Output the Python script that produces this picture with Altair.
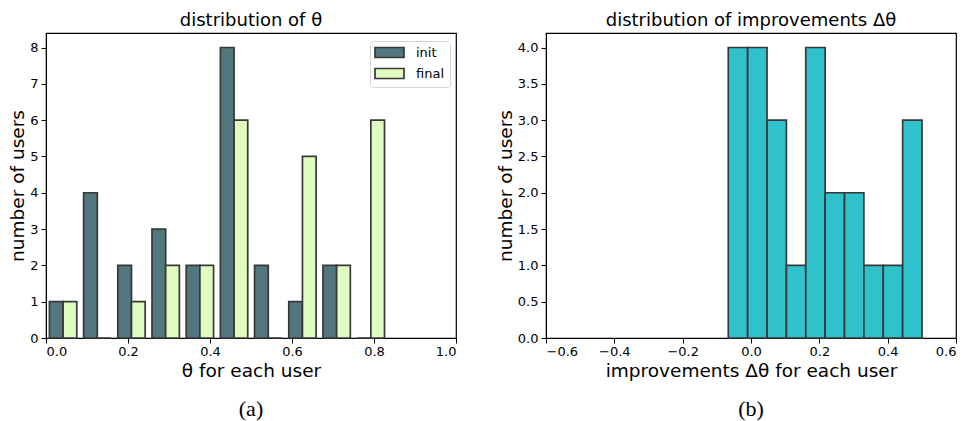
import altair as alt
import pandas as pd

# ---- data ----
theta_edges = [0.0, 0.0834, 0.1668, 0.2502, 0.3336, 0.417, 0.5004, 0.5838, 0.6672, 0.7506, 0.834]
init_counts = [1, 4, 2, 3, 2, 8, 2, 1, 2, 0]
final_counts = [1, 0, 1, 2, 2, 6, 0, 5, 2, 6]

delta_edges = [-0.0665, -0.0098, 0.0469, 0.1036, 0.1603, 0.217, 0.2737, 0.3304, 0.3871, 0.4438, 0.5005]
delta_counts = [4, 4, 3, 1, 4, 2, 2, 1, 1, 3]

series = ["init", "final"]
colors = ["#52777e", "#e1fcc1"]
cyan = "#2fc1cc"
edge = "#383838"

W, H = 410, 305
FONT = "DejaVu Sans"
TICK_FS = 13
LABEL_FS = 18.5
TITLE_FS = 18

# grouped histogram table (matplotlib-style: two bars fill 80% of each bin)
rows = []
for i in range(len(init_counts)):
    lo, hi = theta_edges[i], theta_edges[i + 1]
    c = (lo + hi) / 2
    bw = (hi - lo) * 0.4
    rows.append({"series": "init", "x": c - bw, "x2": c, "count": init_counts[i]})
    rows.append({"series": "final", "x": c, "x2": c + bw, "count": final_counts[i]})
left_df = pd.DataFrame(rows)

right_df = pd.DataFrame({
    "x": delta_edges[:-1],
    "x2": delta_edges[1:],
    "count": delta_counts,
})

def xaxis(title, vals):
    return alt.Axis(title=title, values=vals, format=".1f", grid=False, tickColor="black",
                    domainColor="black", labelColor="black", titleColor="black",
                    labelFontSize=TICK_FS, titleFontSize=LABEL_FS, titleFontWeight="normal",
                    tickSize=5, labelPadding=2, titlePadding=3, labelFont=FONT, titleFont=FONT,
                    labelOverlap=False)

def yaxis(vals, fmt):
    return alt.Axis(title="number of users", values=vals, format=fmt, grid=False, tickColor="black",
                    domainColor="black", labelColor="black", titleColor="black",
                    labelFontSize=TICK_FS, titleFontSize=LABEL_FS, titleFontWeight="normal",
                    tickSize=5, labelPadding=3, titlePadding=2, labelFont=FONT, titleFont=FONT,
                    labelOverlap=False)

left_bars = alt.Chart(left_df).mark_bar(stroke=edge, strokeWidth=1.7, opacity=1,
                                        orient="vertical").encode(
    x=alt.X("x:Q", scale=alt.Scale(domain=[0, 1.0], nice=False, zero=False, padding=0),
            axis=xaxis("θ for each user", [0, 0.2, 0.4, 0.6, 0.8, 1.0])),
    x2="x2:Q",
    y=alt.Y("count:Q", scale=alt.Scale(domain=[0, 8.4], nice=False, padding=0),
            axis=yaxis(list(range(0, 9)), "d")),
    y2=alt.datum(0),
    fill=alt.Fill("series:N", scale=alt.Scale(domain=series, range=colors),
                  legend=alt.Legend(title=None, orient="none", legendX=324, legendY=8,
                                    fillColor="white", strokeColor="#d4d4d4", cornerRadius=3,
                                    padding=5, labelFontSize=TICK_FS, labelFont=FONT,
                                    labelColor="black",
                                    symbolType="M-1.3,-1H4.5V1H-1.3Z", symbolSize=100,
                                    symbolStrokeColor=edge, symbolStrokeWidth=1.7,
                                    symbolOpacity=1, rowPadding=4, labelOffset=28)),
)

cap_a = alt.Chart(pd.DataFrame({"t": ["(a)"]})).mark_text(
    font="Liberation Serif", fontSize=22, color="black").encode(
    x=alt.value(W / 2), y=alt.value(H + 71), text="t:N")

left = alt.layer(left_bars, cap_a).properties(
    width=W, height=H,
    title=alt.Title("distribution of θ", fontSize=TITLE_FS, fontWeight="normal", font=FONT,
                    color="black", offset=3))

right_bars = alt.Chart(right_df).mark_bar(stroke=edge, strokeWidth=1.7, fill=cyan, opacity=1,
                                          orient="vertical").encode(
    x=alt.X("x:Q", scale=alt.Scale(domain=[-0.6, 0.6], nice=False, zero=False, padding=0),
            axis=xaxis("improvements Δθ for each user", [-0.6, -0.4, -0.2, 0, 0.2, 0.4, 0.6])),
    x2="x2:Q",
    y=alt.Y("count:Q", scale=alt.Scale(domain=[0, 4.2], nice=False, padding=0),
            axis=yaxis([0, 0.5, 1, 1.5, 2, 2.5, 3, 3.5, 4], ".1f")),
    y2=alt.datum(0),
)

cap_b = alt.Chart(pd.DataFrame({"t": ["(b)"]})).mark_text(
    font="Liberation Serif", fontSize=22, color="black").encode(
    x=alt.value(W / 2), y=alt.value(H + 71), text="t:N")

right = alt.layer(right_bars, cap_b).properties(
    width=W, height=H,
    title=alt.Title("distribution of improvements Δθ", fontSize=TITLE_FS, fontWeight="normal",
                    font=FONT, color="black", offset=3))

chart = alt.hconcat(left, right, spacing=37).resolve_scale(fill="independent").resolve_legend(
    fill="independent").properties(
    padding={"top": 3, "left": 0, "right": 0, "bottom": 0}
).configure_view(stroke="black", strokeWidth=1.2)

chart.save("out.html", embed_options={"renderer": "svg", "actions": False})
